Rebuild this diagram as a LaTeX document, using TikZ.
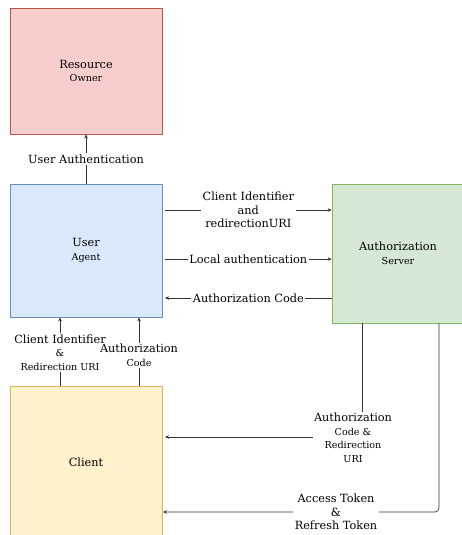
\documentclass[tikz,border=0pt]{standalone}
\usepackage{fontspec}
\setmainfont{DejaVu Serif}
\usetikzlibrary{arrows.meta}
\newcommand{\myLarge}{\fontsize{11.3}{13.5}\selectfont}
\newcommand{\mySmall}{\fontsize{9.6}{12.5}\selectfont}
\begin{document}
\begin{tikzpicture}[x=1pt,y=-1pt,
  box/.style={draw, line width=0.7pt, minimum width=152pt, inner sep=0pt, align=center, font=\myLarge},
  arr/.style={draw=black!80, line width=0.7pt, -{Stealth[length=4pt,width=3.5pt]}},
  lab/.style={fill=white, inner sep=1.5pt, align=center, font=\myLarge}]
\useasboundingbox (0,0) rectangle (461,535);
\node[box, draw={rgb,255:red,184;green,84;blue,80}, fill={rgb,255:red,248;green,206;blue,204}, minimum height=126pt] (ro) at (86,71) {Resource\\{\mySmall Owner}};
\node[box, draw={rgb,255:red,108;green,142;blue,191}, fill={rgb,255:red,218;green,232;blue,252}, minimum height=133pt] (ua) at (86,250.5) {User\\{\mySmall Agent}};
\node[box, draw={rgb,255:red,130;green,179;blue,102}, fill={rgb,255:red,213;green,232;blue,212}, minimum width=132pt, minimum height=139pt] (as) at (398,253.5) {Authorization\\{\mySmall Server}};
\node[box, draw={rgb,255:red,214;green,182;blue,86}, fill={rgb,255:red,255;green,242;blue,204}, minimum height=152pt] (cl) at (86,462) {Client};
% coordinates
\coordinate (c1s) at (165,210); \coordinate (c1e) at (as.west |- 0,210);
\coordinate (c2s) at (165,259); \coordinate (c2e) at (as.west |- 0,259);
\coordinate (c3s) at (as.west |- 0,298); \coordinate (c3e) at (165,298);
\coordinate (c4s) at (cl.north -| 60,0); \coordinate (c4e) at (ua.south -| 60,0);
\coordinate (c5s) at (cl.north -| 139,0); \coordinate (c5e) at (ua.south -| 139,0);
\coordinate (c6s) at (as.south -| 362,0); \coordinate (c6e) at (165,437);
\coordinate (c7s) at (as.south -| 439,0); \coordinate (c7e) at (163,512);
\draw[arr] (ua.north) -- (ro.south) node[midway, lab] {User Authentication};
\draw[arr] (c1s) -- (c1e) node[midway, lab] {Client Identifier\\and\\redirectionURI};
\draw[arr] (c2s) -- (c2e) node[midway, lab] {Local authentication};
\draw[arr] (c3s) -- (c3e) node[midway, lab] {Authorization Code};
\draw[arr] (c4s) -- (c4e) node[midway, lab, yshift=-1pt] {Client Identifier\\{\mySmall \&}\\{\mySmall Redirection URI}};
\draw[arr] (c5s) -- (c5e) node[midway, lab, yshift=-4pt] {Authorization\\{\mySmall Code}};
\draw[arr] (c6s) |- (c6e);
\node[lab] (l6) at (353,438) {Authorization\\{\mySmall Code \&}\\{\mySmall Redirection}\\{\mySmall URI}};
\draw[arr, rounded corners=4pt] (c7s) |- (c7e);
\node[lab] (l7) at (336,512) {Access Token\\\&\\Refresh Token};
\end{tikzpicture}
\end{document}
